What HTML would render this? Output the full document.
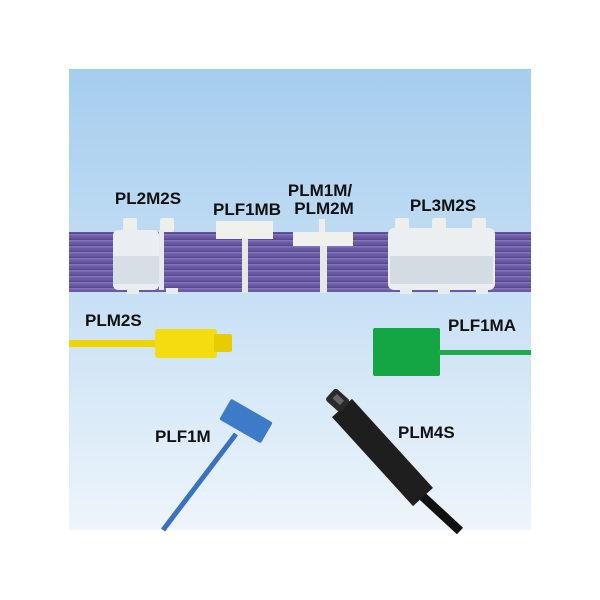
<!DOCTYPE html>
<html><head><meta charset="utf-8"><style>
html,body{margin:0;padding:0;background:#fff;width:600px;height:600px;overflow:hidden}
svg{display:block}
text{font-family:"Liberation Sans",sans-serif;font-weight:bold;font-size:17px;fill:#111}
</style></head><body>
<svg width="600" height="600" viewBox="0 0 600 600" xmlns="http://www.w3.org/2000/svg">
<defs>
<linearGradient id="bg" x1="0" y1="0" x2="0" y2="1">
<stop offset="0" stop-color="#a6cdee"/>
<stop offset="0.45" stop-color="#c4def4"/>
<stop offset="1" stop-color="#eef5fb"/>
</linearGradient>
<pattern id="wires" width="10" height="6" patternUnits="userSpaceOnUse">
<rect width="10" height="6" fill="#6a5aa6"/>
<rect y="0" width="10" height="1.5" fill="#8374b8"/>
<rect y="4.5" width="10" height="1.5" fill="#574a92"/>
</pattern>
</defs>
<rect x="69" y="69" width="462" height="461" fill="url(#bg)"/>
<!-- cable -->
<rect x="69" y="232" width="462" height="60" fill="url(#wires)"/>
<!-- PL2M2S -->
<rect x="123" y="218" width="14" height="14" rx="2" fill="#eeeeea"/>
<rect x="160" y="218" width="14" height="14" rx="2" fill="#eeeeea"/>
<rect x="113" y="230" width="46" height="60" rx="5" fill="#eaeef2"/>
<rect x="113" y="256" width="46" height="28" fill="#d6dee6"/>
<rect x="127" y="288" width="12" height="6" fill="#e8ecee"/>
<rect x="166" y="288" width="12" height="6" fill="#e8ecee"/>
<rect x="159" y="230" width="5" height="60" fill="#e6eaee"/>
<!-- PLF1MB -->
<rect x="216" y="221" width="57" height="18" fill="#f0f0ec"/>
<rect x="242" y="238" width="6" height="55" fill="#e6e8e4"/>
<!-- PLM1M -->
<rect x="319" y="219" width="6" height="13" fill="#eeeeea"/>
<rect x="293" y="232" width="60" height="14" fill="#f0f0ec"/>
<rect x="320" y="246" width="7" height="47" fill="#e6e8e4"/>
<!-- PL3M2S -->
<rect x="395" y="218" width="14" height="14" rx="2" fill="#eeeeea"/>
<rect x="432" y="218" width="14" height="14" rx="2" fill="#eeeeea"/>
<rect x="472" y="218" width="14" height="14" rx="2" fill="#eeeeea"/>
<rect x="388" y="228" width="107" height="62" rx="6" fill="#eceff1"/>
<rect x="390" y="256" width="103" height="28" fill="#d3dbe3"/>
<rect x="400" y="288" width="12" height="6" fill="#e8ecee"/>
<rect x="438" y="288" width="12" height="6" fill="#e8ecee"/>
<rect x="476" y="288" width="12" height="6" fill="#e8ecee"/>
<!-- yellow -->
<rect x="69" y="340" width="90" height="7" fill="#f0d400"/>
<rect x="155" y="329" width="62" height="29" rx="3" fill="#f4dc10"/>
<rect x="214" y="334" width="18" height="18" rx="2" fill="#e6cc00"/>
<!-- green -->
<rect x="373" y="328" width="67" height="48" rx="2" fill="#14a545"/>
<rect x="438" y="350" width="93" height="5" fill="#20aa4c"/>
<!-- blue -->
<line x1="236" y1="434" x2="163" y2="530" stroke="#3a72c0" stroke-width="5"/>
<g transform="translate(246,421) rotate(30)"><rect x="-24" y="-12" width="48" height="24" rx="2" fill="#3d7ac8"/></g>
<!-- black -->
<line x1="420" y1="494" x2="460" y2="531" stroke="#111" stroke-width="9"/>
<line x1="342" y1="408" x2="423" y2="497" stroke="#1e1e1e" stroke-width="27"/>
<g transform="translate(337,401) rotate(42)"><rect x="-10" y="-9" width="20" height="16" rx="3" fill="#2a2a2a"/><rect x="-5" y="-5" width="10" height="6" fill="#666"/></g>
<!-- labels -->
<text x="148" y="204" text-anchor="middle">PL2M2S</text>
<text x="247" y="215" text-anchor="middle">PLF1MB</text>
<text x="320" y="196" text-anchor="middle">PLM1M/</text>
<text x="324" y="214" text-anchor="middle">PLM2M</text>
<text x="443" y="211" text-anchor="middle">PL3M2S</text>
<text x="85" y="326">PLM2S</text>
<text x="448" y="331">PLF1MA</text>
<text x="155" y="442">PLF1M</text>
<text x="398" y="438">PLM4S</text>
</svg>
</body></html>
